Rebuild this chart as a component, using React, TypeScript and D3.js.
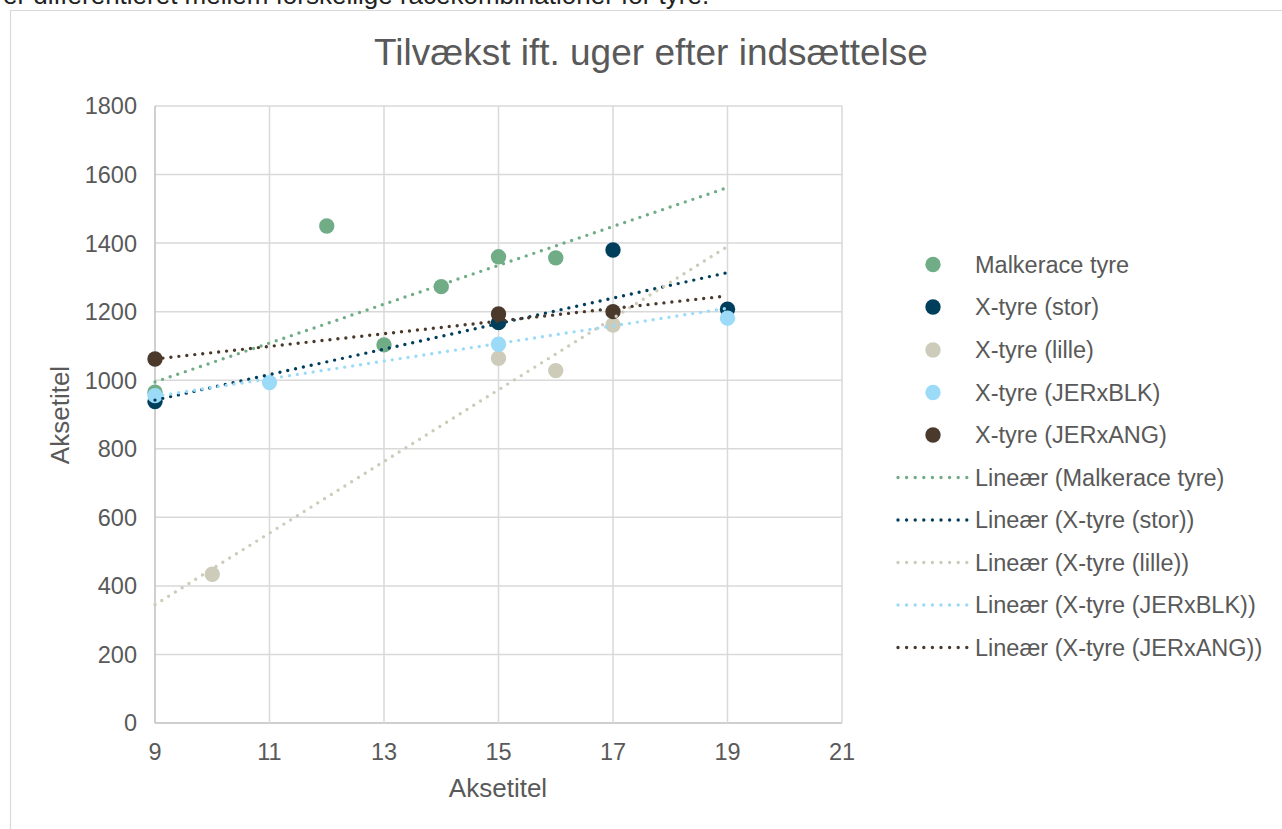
import React from "react";
import * as d3 from "d3";

// ---- data ----
const xTicks = [9, 11, 13, 15, 17, 19, 21];
const yTicks = [0, 200, 400, 600, 800, 1000, 1200, 1400, 1600, 1800];

const seriesNames = [
  "Malkerace tyre",
  "X-tyre (stor)",
  "X-tyre (lille)",
  "X-tyre (JERxBLK)",
  "X-tyre (JERxANG)",
];
const seriesColors = ["#70AD87", "#003F5C", "#CDCBB9", "#9BDBF8", "#4B3A2C"];

const malkX = [9, 12, 13, 14, 15, 16];
const malkY = [965, 1450, 1103, 1273, 1360, 1357];
const storX = [9, 15, 17, 19];
const storY = [938, 1168, 1380, 1207];
const lilleX = [10, 15, 16, 17];
const lilleY = [434, 1064, 1028, 1161];
const blkX = [9, 11, 15, 19];
const blkY = [955, 993, 1105, 1181];
const angX = [9, 15, 17];
const angY = [1062, 1193, 1200];

// linear trendline end values (at x = 9 and x = 19)
const trendX = [9, 19];
const malkTrend = [995, 1562];
const storTrend = [942, 1314];
const lilleTrend = [345, 1390];
const blkTrend = [953, 1210];
const angTrend = [1062, 1246];

const title = "Tilvækst ift. uger efter indsættelse";
const axisTitle = "Aksetitel";
const aboveText = "er differentieret mellem forskellige racekombinationer for tyre.";

export default function App() {
  const W = 1282;
  const H = 829;
  const plot = { left: 155, right: 842, top: 106, bottom: 723 };
  const x = d3.scaleLinear().domain([9, 21]).range([plot.left, plot.right]);
  const y = d3.scaleLinear().domain([0, 1800]).range([plot.bottom, plot.top]);

  const pointsX = [malkX, storX, lilleX, blkX, angX];
  const pointsY = [malkY, storY, lilleY, blkY, angY];
  const trends = [malkTrend, storTrend, lilleTrend, blkTrend, angTrend];

  const line = d3
    .line<[number, number]>()
    .x((d) => x(d[0]))
    .y((d) => y(d[1]));

  const font = "'Liberation Sans', Arial, sans-serif";
  const textColor = "#595959";
  const gridColor = "#D9D9D9";

  const legendX = 933;
  const legendRows = [264.5, 307, 350, 392.5, 435, 477.5, 520, 562.5, 605, 647.5];
  const legendTextX = 975;

  return (
    <svg
      width={W}
      height={H}
      style={{ position: "absolute", left: 0, top: 0, background: "#fff" }}
      fontFamily={font}
    >
      <rect x={0} y={0} width={W} height={H} fill="#fff" />
      {/* text of the surrounding document, cut off at the top edge as in the reference */}
      <text x={3} y={4} fontSize={26} fill="#222">
        {aboveText}
      </text>
      {/* chart frame */}
      <path d={`M10.5,${H + 5} V10.5 H${W + 5}`} fill="none" stroke={gridColor} strokeWidth={1.2} />

      {/* title */}
      <text x={651} y={65} textAnchor="middle" fontSize={37} fill={textColor}>
        {title}
      </text>

      {/* grid */}
      {yTicks.map((t) => (
        <line
          key={"gy" + t}
          x1={plot.left}
          x2={plot.right}
          y1={y(t)}
          y2={y(t)}
          stroke={t === 0 ? "#BFBFBF" : gridColor}
          strokeWidth={1.5}
        />
      ))}
      {xTicks.map((t) => (
        <line
          key={"gx" + t}
          x1={x(t)}
          x2={x(t)}
          y1={plot.top}
          y2={plot.bottom}
          stroke={t === 9 ? "#BFBFBF" : gridColor}
          strokeWidth={1.5}
        />
      ))}

      {/* tick labels */}
      {yTicks.map((t) => (
        <text
          key={"ty" + t}
          x={137}
          y={y(t)}
          dy="0.36em"
          textAnchor="end"
          fontSize={23.5}
          fill={textColor}
        >
          {t}
        </text>
      ))}
      {xTicks.map((t) => (
        <text key={"tx" + t} x={x(t)} y={760} textAnchor="middle" fontSize={23.5} fill={textColor}>
          {t}
        </text>
      ))}

      {/* axis titles */}
      <text x={498} y={797} textAnchor="middle" fontSize={26} fill={textColor}>
        {axisTitle}
      </text>
      <text
        transform={`translate(69,415) rotate(-90)`}
        textAnchor="middle"
        fontSize={26}
        fill={textColor}
      >
        {axisTitle}
      </text>

      {/* markers */}
      {pointsX.map((xs, si) =>
        xs.map((xv, i) => (
          <circle
            key={`p${si}-${i}`}
            cx={x(xv)}
            cy={y(pointsY[si][i])}
            r={7.7}
            fill={seriesColors[si]}
          />
        ))
      )}

      {/* trendlines */}
      {trends.map((tr, si) => (
        <path
          key={"tr" + si}
          d={line(trendX.map((xv, i) => [xv, tr[i]] as [number, number])) || ""}
          fill="none"
          stroke={seriesColors[si]}
          strokeWidth={3.4}
          strokeLinecap="round"
          strokeDasharray="0 8"
        />
      ))}

      {/* legend */}
      {seriesNames.map((name, si) => (
        <g key={"lm" + si}>
          <circle cx={legendX} cy={legendRows[si]} r={7.7} fill={seriesColors[si]} />
          <text x={legendTextX} y={legendRows[si]} dy="0.36em" fontSize={23.5} fill={textColor}>
            {name}
          </text>
        </g>
      ))}
      {seriesNames.map((name, si) => (
        <g key={"ll" + si}>
          <line
            x1={898}
            x2={967}
            y1={legendRows[5 + si]}
            y2={legendRows[5 + si]}
            stroke={seriesColors[si]}
            strokeWidth={3.4}
            strokeLinecap="round"
            strokeDasharray="0 8.6"
          />
          <text x={legendTextX} y={legendRows[5 + si]} dy="0.36em" fontSize={23.5} fill={textColor}>
            {`Lineær (${name})`}
          </text>
        </g>
      ))}
    </svg>
  );
}
